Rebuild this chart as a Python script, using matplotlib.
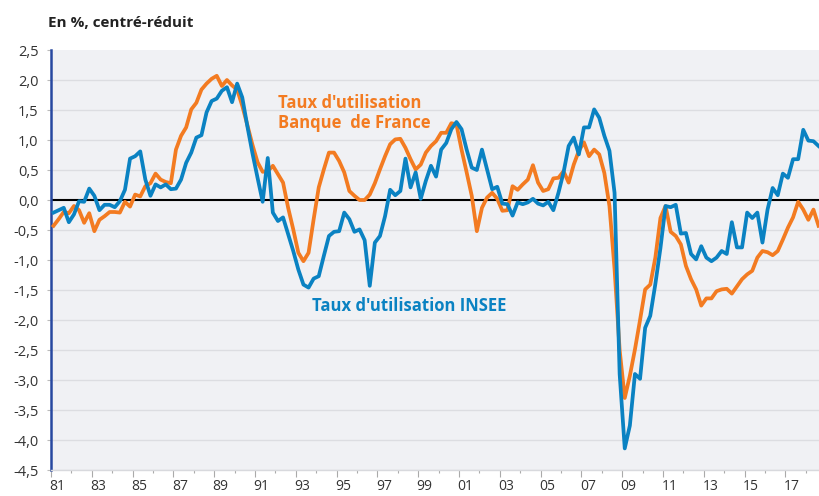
import matplotlib
matplotlib.use("Agg")
import matplotlib.pyplot as plt
import matplotlib.transforms as mtransforms
import numpy as np

# Quarterly data, 1981Q1 .. 2018Q3
start_year = 1981
insee = [
    -0.21, -0.17, -0.13, -0.37, -0.24, -0.02, -0.03, 0.19, 0.07, -0.17,
    -0.08, -0.08, -0.12, -0.02, 0.17, 0.69, 0.73, 0.81, 0.34, 0.07,
    0.26, 0.21, 0.26, 0.18, 0.19, 0.34, 0.62, 0.79, 1.04, 1.08,
    1.46, 1.65, 1.69, 1.82, 1.88, 1.63, 1.94, 1.71, 1.23, 0.78,
    0.37, -0.03, 0.70, -0.21, -0.35, -0.29, -0.57, -0.85, -1.16, -1.41,
    -1.46, -1.31, -1.27, -0.93, -0.60, -0.53, -0.52, -0.21, -0.32, -0.53,
    -0.49, -0.67, -1.43, -0.71, -0.60, -0.27, 0.17, 0.08, 0.15, 0.69,
    0.21, 0.46, 0.02, 0.32, 0.57, 0.39, 0.84, 0.95, 1.18, 1.30,
    1.18, 0.84, 0.54, 0.50, 0.84, 0.51, 0.18, 0.22, -0.06, -0.07,
    -0.26, -0.04, -0.07, -0.04, 0.02, -0.06, -0.09, -0.03, -0.17, 0.12,
    0.46, 0.90, 1.04, 0.76, 1.21, 1.21, 1.51, 1.37, 1.07, 0.82,
    0.12, -2.90, -4.14, -3.76, -2.90, -2.98, -2.13, -1.93, -1.40, -0.80,
    -0.10, -0.12, -0.08, -0.56, -0.55, -0.90, -0.99, -0.77, -0.96, -1.02,
    -0.96, -0.85, -0.90, -0.37, -0.79, -0.79, -0.21, -0.30, -0.21, -0.71,
    -0.16, 0.20, 0.08, 0.44, 0.37, 0.68, 0.68, 1.17, 0.99, 0.98,
    0.90,
]
bdf = [
    -0.43, -0.32, -0.20, -0.22, -0.10, -0.17, -0.38, -0.22, -0.52, -0.33,
    -0.27, -0.20, -0.20, -0.21, -0.03, -0.11, 0.09, 0.06, 0.23, 0.28,
    0.44, 0.34, 0.30, 0.28, 0.84, 1.07, 1.21, 1.51, 1.62, 1.84,
    1.94, 2.02, 2.07, 1.90, 2.00, 1.91, 1.84, 1.57, 1.25, 0.92,
    0.63, 0.47, 0.48, 0.57, 0.43, 0.29, -0.13, -0.49, -0.88, -1.02,
    -0.88, -0.32, 0.21, 0.51, 0.79, 0.79, 0.65, 0.46, 0.15, 0.07,
    0.00, 0.00, 0.09, 0.28, 0.51, 0.73, 0.93, 1.01, 1.02, 0.87,
    0.68, 0.51, 0.59, 0.79, 0.90, 0.98, 1.12, 1.12, 1.28, 1.26,
    0.84, 0.46, 0.07, -0.52, -0.13, 0.04, 0.12, 0.02, -0.18, -0.17,
    0.23, 0.17, 0.26, 0.34, 0.58, 0.29, 0.15, 0.18, 0.36, 0.37,
    0.48, 0.29, 0.59, 0.82, 0.96, 0.73, 0.84, 0.76, 0.45, -0.10,
    -1.15, -2.50, -3.30, -2.93, -2.49, -2.00, -1.49, -1.41, -0.96, -0.30,
    -0.10, -0.53, -0.60, -0.74, -1.10, -1.32, -1.49, -1.76, -1.64, -1.64,
    -1.52, -1.49, -1.48, -1.56, -1.44, -1.32, -1.24, -1.18, -0.96, -0.85,
    -0.87, -0.92, -0.85, -0.66, -0.46, -0.29, -0.03, -0.16, -0.33, -0.16,
    -0.43,
]
yticks = [-4.5, -4.0, -3.5, -3.0, -2.5, -2.0, -1.5, -1.0, -0.5, 0.0, 0.5, 1.0, 1.5, 2.0, 2.5]
label_years = list(range(1981, 2018, 2))
title = "En %, centré-réduit"
label_bdf_1 = "Taux d'utilisation"
label_bdf_2 = "Banque  de France"
label_insee = "Taux d'utilisation INSEE"

orange = "#f37b21"
blue = "#0a82c2"

plt.rcParams['font.family'] = ['Open Sans', 'DejaVu Sans']

W, H = 820, 496
fig = plt.figure(figsize=(W / 100, H / 100), dpi=100)
ax = fig.add_axes([51 / W, (H - 470) / H, (819 - 51) / W, 420 / H])
ax.set_facecolor("#f0f1f4")

t = start_year + 0.125 + 0.25 * np.arange(len(insee))
tb = start_year + 0.125 + 0.25 * np.arange(len(bdf))

for y in yticks:
    if y != 0 and y != 2.5:
        ax.axhline(y, color="#dcdde1", lw=1.0, zorder=1)
ax.axhline(0, color="black", lw=1.5, zorder=2)

ax.plot(tb, bdf, color=orange, lw=2.7, zorder=3, solid_joinstyle='round')
ax.plot(t, insee, color=blue, lw=2.7, zorder=4, solid_joinstyle='round')

ax.set_xlim(1981.0, 1981.0 + (819 - 51) / 20.4)
ax.set_ylim(-4.5, 2.5)

ax.set_yticks(yticks)
ax.set_yticklabels([f"{v:.1f}".replace(".", ",") for v in yticks],
                   fontsize=10.5, color="#333333")
ax.tick_params(axis='y', length=3, width=0.8, color="#bbbbbb", pad=6)

ax.set_xticks(label_years)
ax.set_xticklabels([f"{y % 100:02d}" for y in label_years], fontsize=10, color="#333333")
ax.set_xticks(range(1981, 2019), minor=True)
ax.tick_params(axis='x', which='major', length=5, width=0.8, color="#aaaaaa", pad=1.5)
ax.tick_params(axis='x', which='minor', length=2.5, width=0.8, color="#aaaaaa")
off = mtransforms.ScaledTranslation(0.065, 0, fig.dpi_scale_trans)
for lab in ax.get_xticklabels():
    lab.set_transform(lab.get_transform() + off)

for s in ['top', 'right']:
    ax.spines[s].set_visible(False)
ax.spines['left'].set_color("#2748a0")
ax.spines['left'].set_linewidth(1.8)
ax.spines['bottom'].set_color("#d8d9dd")
ax.spines['bottom'].set_linewidth(1.0)

fig.text(48 / W, 1 - 27 / H, title, fontsize=11, fontweight='bold',
         color="#222222", va='baseline', ha='left')

fig.text(278 / W, 1 - 107.5 / H, label_bdf_1, fontsize=12, fontweight='bold',
         color=orange, va='baseline', ha='left')
fig.text(278 / W, 1 - 128.3 / H, label_bdf_2, fontsize=12, fontweight='bold',
         color=orange, va='baseline', ha='left')
fig.text(312 / W, 1 - 311 / H, label_insee, fontsize=12, fontweight='bold',
         color=blue, va='baseline', ha='left')

fig.savefig("out.png", dpi=100)
